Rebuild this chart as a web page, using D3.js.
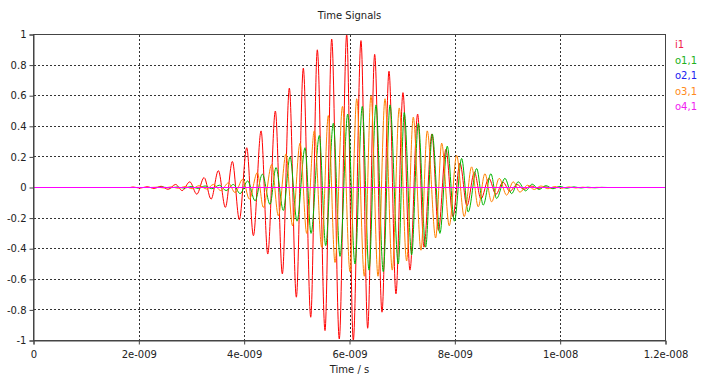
<!DOCTYPE html>
<html><head><meta charset="utf-8">
<script src="https://cdn.jsdelivr.net/npm/d3@7"></script>
<style>
body{margin:0;background:#fff;}
text{font-family:"DejaVu Sans",sans-serif;}
</style></head>
<body><svg id="c" width="703" height="379"></svg>
<script>
// time in ns, values normalised
const i1T=[1.835,1.892,2.025,2.157,2.290,2.423,2.556,2.698,2.822,2.968,3.101,3.239,3.372,3.510,3.643,3.776,3.909,4.049,4.175,4.321,4.448,4.592,4.725,4.858,4.991,5.123,5.264,5.389,5.535,5.662,5.806,5.947,6.072,6.218,6.345,6.478,6.617,6.750,6.882,7.015,7.148,7.294,7.414,7.565,7.689,7.831,7.964,8.097,8.230,8.372,8.495,8.647,8.780,8.913,9.046,9.178,9.311,9.444,9.577,9.710,9.843,9.994];
const i1V=[0,0.003,-0.004,0.005,-0.006,0.008,-0.012,0.02,-0.02,0.037,-0.044,0.065,-0.076,0.11,-0.13,0.17,-0.21,0.26,-0.315,0.37,-0.435,0.50,-0.565,0.65,-0.717,0.78,-0.848,0.90,-0.935,0.97,-0.99,1.0,-1.0,0.96,-0.92,0.87,-0.815,0.76,-0.695,0.62,-0.54,0.48,-0.39,0.35,-0.28,0.25,-0.19,0.16,-0.12,0.10,-0.075,0.06,-0.045,0.035,-0.025,0.02,-0.012,0.01,-0.006,0.004,-0.002,0];

const o11T=[2.309,2.461,2.594,2.727,2.860,2.992,3.125,3.258,3.385,3.529,3.657,3.795,3.922,4.068,4.207,4.345,4.491,4.605,4.744,4.871,5.004,5.156,5.269,5.427,5.548,5.693,5.820,5.966,6.104,6.243,6.370,6.503,6.641,6.769,6.926,7.040,7.180,7.306,7.446,7.571,7.717,7.856,7.992,8.129,8.254,8.414,8.539,8.685,8.793,8.951,9.078,9.203,9.343,9.469,9.596,9.729,9.862,9.994,10.127,10.260,10.393,10.526,10.658,10.791,10.905];
const o11V=[0,0.002,-0.002,0.003,-0.004,0.006,-0.006,0.01,-0.008,0.015,-0.02,0.02,-0.04,0.043,-0.087,0.087,-0.11,0.13,-0.15,0.20,-0.22,0.26,-0.30,0.34,-0.38,0.42,-0.45,0.48,-0.50,0.53,-0.54,0.54,-0.55,0.54,-0.50,0.49,-0.44,0.42,-0.39,0.35,-0.30,0.27,-0.22,0.19,-0.16,0.124,-0.115,0.09,-0.072,0.06,-0.04,0.037,-0.022,0.022,-0.013,0.012,-0.008,0.007,-0.005,0.004,-0.003,0.002,-0.002,0.001,0];

const o21T=[0,12];
const o21V=[0,0];

const o31T=[2.214,2.347,2.480,2.613,2.746,2.879,3.011,3.144,3.290,3.416,3.556,3.700,3.827,3.973,4.099,4.250,4.364,4.524,4.649,4.795,4.918,5.061,5.188,5.332,5.473,5.598,5.725,5.867,6.010,6.137,6.281,6.408,6.541,6.674,6.812,6.945,7.085,7.211,7.357,7.476,7.636,7.750,7.894,8.034,8.178,8.319,8.444,8.571,8.698,8.843,8.983,9.108,9.235,9.381,9.507,9.634,9.767,9.899,10.032,10.165,10.298,10.431,10.564,10.696,10.829];
const o31V=[0,0.002,-0.003,0.004,-0.005,0.006,-0.008,0.012,-0.01,0.02,-0.02,0.03,-0.033,0.054,-0.076,0.097,-0.13,0.15,-0.185,0.22,-0.25,0.29,-0.30,0.37,-0.39,0.47,-0.49,0.53,-0.55,0.58,-0.58,0.60,-0.58,0.58,-0.54,0.52,-0.48,0.46,-0.41,0.37,-0.33,0.29,-0.25,0.21,-0.19,0.135,-0.126,0.09,-0.094,0.06,-0.05,0.037,-0.03,0.015,-0.013,0.01,-0.008,0.006,-0.005,0.004,-0.003,0.002,-0.002,0.001,0];

const o41T=[0,12];
const o41V=[0,0];

const seriesNames=["i1","o1,1","o2,1","o3,1","o4,1"];
const seriesColors=["#ff0000","#00b400","#0000ff","#ff8000","#ff00ff"];
const legendColors=["#f0204a","#20b020","#2020f0","#ff8a20","#f020f0"];
const xTicks=[0,2,4,6,8,10,12];
const xTickLabels=["0","2e-009","4e-009","6e-009","8e-009","1e-008","1.2e-008"];
const yTicks=[-1,-0.8,-0.6,-0.4,-0.2,0,0.2,0.4,0.6,0.8,1];
const yTickLabels=["-1","-0.8","-0.6","-0.4","-0.2","0","0.2","0.4","0.6","0.8","1"];
const title="Time Signals";
const xTitle="Time / s";

const svg=d3.select("#c");
const L=33.5,R=665.5,T=34.5,B=340.5;
const x=d3.scaleLinear().domain([0,12]).range([L,R]);
const y=d3.scaleLinear().domain([-1,1]).range([B,T]);

// grid
const g=svg.append("g");
g.selectAll(".vg").data(xTicks.filter(d=>d>0&&d<12)).enter().append("line")
 .attr("x1",d=>Math.round(x(d))+0.5).attr("x2",d=>Math.round(x(d))+0.5)
 .attr("y1",T).attr("y2",B).attr("stroke","#333").attr("stroke-dasharray","2,2").attr("shape-rendering","crispEdges");
g.selectAll(".hg").data(yTicks.filter(d=>d>-1&&d<1&&d!==0)).enter().append("line")
 .attr("y1",d=>Math.round(y(d)-0.5)+0.5).attr("y2",d=>Math.round(y(d)-0.5)+0.5)
 .attr("x1",L).attr("x2",R).attr("stroke","#333").attr("stroke-dasharray","2,2").attr("shape-rendering","crispEdges");

svg.append("clipPath").attr("id","clip").append("rect").attr("x",L).attr("y",T-1).attr("width",R-L).attr("height",B-T+2);

const data=[[i1T,i1V],[o11T,o11V],[o21T,o21V],[o31T,o31V],[o41T,o41V]];
const line=d3.line().x(d=>x(d[0])).y(d=>y(d[1])).curve(d3.curveMonotoneX);
const pg=svg.append("g").attr("clip-path","url(#clip)");
data.forEach((s,i)=>{
  const pts=s[0].map((t,k)=>[t,s[1][k]]);
  const p=pg.append("path").datum(pts).attr("d",line).attr("fill","none")
    .attr("stroke",seriesColors[i]).attr("stroke-width",1);
  if(s[0].length===2) p.attr("shape-rendering","crispEdges");
});

// frame
svg.append("rect").attr("x",L).attr("y",T).attr("width",R-L).attr("height",B-T)
 .attr("fill","none").attr("stroke","#444").attr("stroke-width",1);

// axes
const xa=d3.axisBottom(x).tickValues(xTicks).tickFormat((d,i)=>xTickLabels[i]).tickSize(4).tickPadding(6);
const ya=d3.axisLeft(y).tickValues(yTicks).tickFormat((d,i)=>yTickLabels[i]).tickSize(4).tickPadding(3);
const gx=svg.append("g").attr("transform",`translate(0,${B})`).call(xa);
const gy=svg.append("g").attr("transform",`translate(${L},0)`).call(ya);
[gx,gy].forEach(a=>{
  a.select(".domain").attr("stroke","#444");
  a.selectAll(".tick line").attr("stroke","#444");
  a.selectAll("text").attr("fill","#222").style("font-size","10px").style("font-family","DejaVu Sans");
});

svg.append("text").attr("x",(L+R)/2).attr("y",19).attr("text-anchor","middle")
 .style("font-size","10px").attr("fill","#222").text(title);
svg.append("text").attr("x",(L+R)/2).attr("y",373).attr("text-anchor","middle")
 .style("font-size","10px").attr("fill","#222").text(xTitle);

// legend
svg.selectAll(".lg").data(seriesNames).enter().append("text")
 .attr("x",675).attr("y",(d,i)=>48+i*15.6).style("font-size","10px")
 .attr("fill",(d,i)=>legendColors[i]).text(d=>d);
</script></body></html>
